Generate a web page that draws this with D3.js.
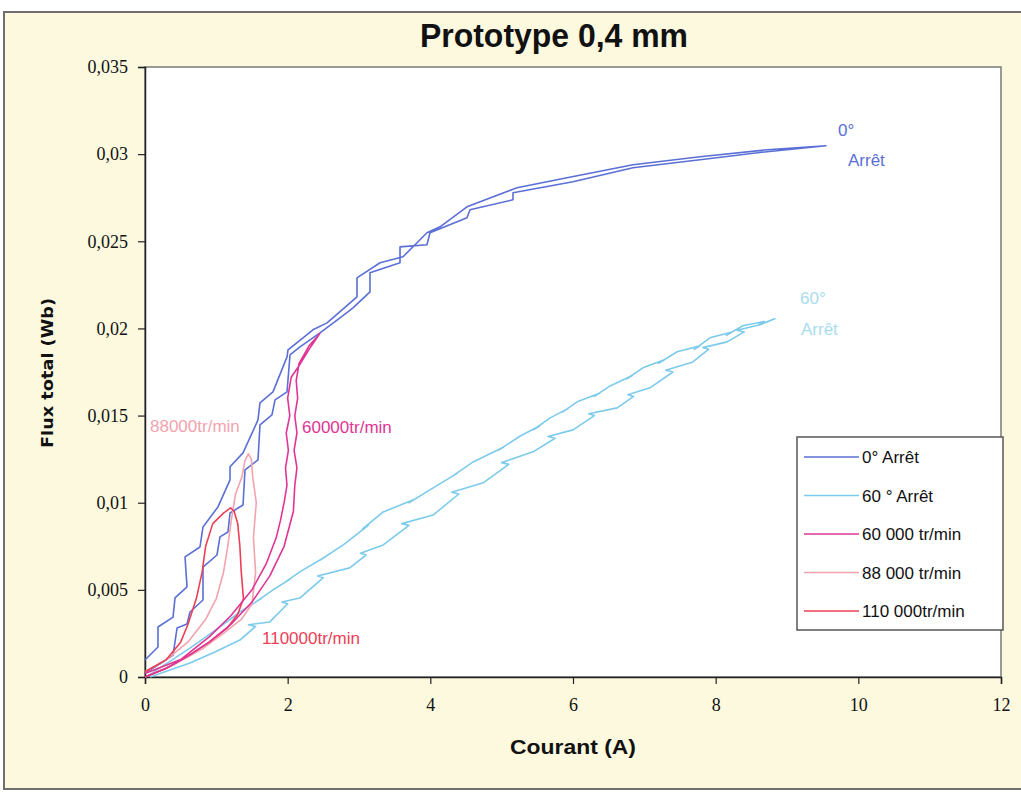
<!DOCTYPE html>
<html><head><meta charset="utf-8">
<script src="https://cdn.jsdelivr.net/npm/d3@7"></script>
<style>
html,body{margin:0;padding:0;background:#fff;}
svg{display:block;}
</style></head>
<body>
<svg id="chart" width="1021" height="792"></svg>
<script>
// ---- Data (Courant A, Flux total Wb) ----
const xTicks = [0, 2, 4, 6, 8, 10, 12];
const yTicks = [0, 0.005, 0.01, 0.015, 0.02, 0.025, 0.03, 0.035];

const seriesNames = ["0° Arrêt", "60 ° Arrêt", "60 000 tr/min", "88 000 tr/min", "110 000tr/min"];
const seriesColors = ["#5b6fd6", "#7ccbec", "#e03595", "#f3a3ae", "#ec3f55"];

const zeroX = [0,0.21,0.393,0.449,0.589,0.631,0.813,0.813,1.009,1.051,1.163,1.192,1.374,1.402,1.584,1.612,1.78,1.823,1.991,2.033,2.173,2.453,2.734,2.916,3.154,3.154,3.575,3.575,3.953,3.995,4.514,4.556,5.159,5.159,6.0,6.841,7.78,8.72,9.547,
  8.72,7.78,6.841,5.916,5.215,4.514,4.136,3.953,3.617,3.295,2.972,2.972,2.552,2.355,2.005,1.991,1.794,1.612,1.584,1.374,1.192,1.192,1.023,0.813,0.771,0.561,0.589,0.421,0.393,0.182,0.182,0.028,0];
const zeroY = [0.00023,0.00075,0.00126,0.00281,0.00304,0.00373,0.00442,0.00631,0.007,0.00804,0.00832,0.00941,0.00987,0.01188,0.01246,0.01447,0.01504,0.0159,0.01636,0.01848,0.01894,0.01975,0.02061,0.02118,0.0221,0.02319,0.02377,0.02468,0.0248,0.02549,0.02635,0.02681,0.02738,0.02778,0.02842,0.02922,0.02968,0.03014,0.03048,
  0.03025,0.02985,0.02939,0.02865,0.02807,0.02698,0.02583,0.02549,0.02411,0.02377,0.0229,0.02181,0.02032,0.01992,0.01877,0.01837,0.01636,0.01573,0.01475,0.01286,0.01206,0.01131,0.00976,0.00861,0.00746,0.00689,0.00517,0.00454,0.00344,0.00287,0.00172,0.00109,0.00098];

const sixtyX = [0.07,0.35,0.63,0.98,1.33,1.55,1.45,1.75,2.0,1.92,2.17,2.5,2.42,2.87,3.1,3.02,3.34,3.7,3.6,4.04,4.4,4.3,4.74,5.1,5.0,5.44,5.75,5.65,6.0,6.3,6.22,6.62,6.85,6.77,7.08,7.4,7.3,7.68,7.9,7.82,8.16,8.4,8.3,8.62,8.83,
  8.6,8.68,8.38,8.15,8.23,7.92,7.7,7.78,7.46,7.2,7.28,6.98,6.75,6.83,6.52,6.3,6.38,6.06,5.85,5.93,5.68,5.45,5.53,5.26,4.95,5.03,4.6,4.3,4.38,4.04,3.7,3.78,3.34,3.05,3.13,2.78,2.45,2.53,2.17,1.95,2.03,1.79,1.55,1.63,1.33,1.09,0.63,0.21,0.04];
const sixtyY = [0,0.0004,0.0008,0.00144,0.00212,0.0029,0.003,0.00316,0.0042,0.0043,0.00453,0.0057,0.0058,0.00626,0.007,0.0071,0.00758,0.0087,0.0088,0.0093,0.0105,0.0106,0.01114,0.0122,0.0123,0.01292,0.0137,0.0138,0.01418,0.015,0.0151,0.01544,0.0161,0.0162,0.01659,0.0175,0.0176,0.01808,0.0188,0.0189,0.01923,0.0198,0.0199,0.02021,0.02055,
  0.0202,0.0204,0.02015,0.0196,0.0198,0.01946,0.0188,0.019,0.01866,0.018,0.0182,0.01774,0.0171,0.0173,0.0167,0.0161,0.0163,0.01579,0.0152,0.0154,0.01487,0.0142,0.0144,0.01383,0.013,0.0132,0.01234,0.0115,0.0117,0.01085,0.01,0.0102,0.00947,0.0085,0.0087,0.00758,0.0067,0.0069,0.00603,0.0054,0.0056,0.00499,0.0043,0.0045,0.00373,0.00299,0.00166,0.00052,0.00006];

const rpm60X = [0,0.3,0.6,0.9,1.2,1.5,1.75,1.95,2.08,2.1,2.13,2.09,2.13,2.1,2.14,2.12,2.16,2.3,2.45,
  2.3,2.15,2.05,2.0,2.03,1.98,2.01,1.97,1.99,1.95,1.9,1.84,1.7,1.5,1.2,0.9,0.5,0];
const rpm60Y = [0,0.0005,0.0012,0.002,0.003,0.0043,0.0058,0.0075,0.0095,0.011,0.012,0.013,0.014,0.015,0.016,0.017,0.018,0.019,0.0197,
  0.0188,0.0178,0.0172,0.016,0.015,0.014,0.013,0.012,0.011,0.01,0.009,0.008,0.0065,0.005,0.0035,0.0023,0.001,0.0002];

const rpm88X = [0,0.4,0.8,1.1,1.35,1.5,1.55,1.52,1.56,1.51,1.49,1.45,
  1.4,1.36,1.27,1.21,1.16,1.1,1.0,0.85,0.6,0.3,0];
const rpm88Y = [0,0.0007,0.0016,0.0025,0.0033,0.0042,0.006,0.008,0.01,0.0115,0.0125,0.0128,
  0.0124,0.0115,0.0105,0.009,0.0075,0.006,0.0045,0.0033,0.002,0.001,0.0003];

const rpm110X = [0,0.3,0.6,0.9,1.15,1.3,1.38,1.35,1.33,1.3,1.25,1.2,
  1.1,0.95,0.85,0.8,0.72,0.6,0.5,0.3,0];
const rpm110Y = [0,0.0005,0.0012,0.002,0.0028,0.0036,0.0045,0.006,0.0075,0.0088,0.0095,0.0097,
  0.0094,0.0088,0.0075,0.006,0.0045,0.003,0.002,0.001,0.0003];

const seriesData = [
  {x: zeroX, y: zeroY},
  {x: sixtyX, y: sixtyY},
  {x: rpm60X, y: rpm60Y},
  {x: rpm88X, y: rpm88Y},
  {x: rpm110X, y: rpm110Y}
];

// ---- Drawing ----
const svg = d3.select("#chart");
const X0 = 145, X1 = 1001, Y0 = 677, Y1 = 67;
const x = d3.scaleLinear().domain([0, 12]).range([X0, X1]);
const y = d3.scaleLinear().domain([0, 0.035]).range([Y0, Y1]);
const loc = d3.formatLocale({decimal: ",", thousands: " ", grouping: [3], currency: ["", "€"]});
const fmt = loc.format("~r");

// outer chart frame
svg.append("rect").attr("x", 4).attr("y", 12).attr("width", 1030).attr("height", 777)
  .attr("fill", "#fcf9de").attr("stroke", "#6f6f6f").attr("stroke-width", 2);
// plot area
svg.append("rect").attr("x", X0).attr("y", Y1).attr("width", X1 - X0).attr("height", Y0 - Y1)
  .attr("fill", "#ffffff").attr("stroke", "#7a7a7a").attr("stroke-width", 1.5);

// title
svg.append("text").attr("x", 554).attr("y", 47).attr("text-anchor", "middle")
  .attr("font-family", "'Liberation Sans',Arial,sans-serif")
  .attr("font-weight", "bold").attr("font-size", 34).attr("fill", "#111")
  .attr("textLength", 268).attr("lengthAdjust", "spacingAndGlyphs")
  .text("Prototype 0,4 mm");

// axes
const gx = svg.append("g").attr("transform", `translate(0,${Y0})`)
  .call(d3.axisBottom(x).tickValues(xTicks).tickFormat(fmt).tickSize(7).tickPadding(14));
const gy = svg.append("g").attr("transform", `translate(${X0},0)`)
  .call(d3.axisLeft(y).tickValues(yTicks).tickFormat(fmt).tickSize(7).tickPadding(10));
[gx, gy].forEach(g => {
  g.select(".domain").attr("stroke", "#222").attr("stroke-width", 1.5);
  g.selectAll(".tick line").attr("stroke", "#222").attr("stroke-width", 1.2);
  g.selectAll(".tick text").attr("font-family", "'Liberation Serif','Times New Roman',serif")
    .attr("font-size", 18).attr("fill", "#111");
});

// axis titles
svg.append("text").attr("x", 573).attr("y", 754).attr("text-anchor", "middle")
  .attr("font-family", "'Liberation Sans',Arial,sans-serif")
  .attr("font-weight", "bold").attr("font-size", 21).attr("fill", "#111")
  .attr("textLength", 126).attr("lengthAdjust", "spacingAndGlyphs").text("Courant (A)");
svg.append("text").attr("transform", "translate(53,373) rotate(-90)").attr("text-anchor", "middle")
  .attr("font-family", "'DejaVu Sans',Verdana,sans-serif")
  .attr("font-weight", "bold").attr("font-size", 16.5).attr("fill", "#111")
  .attr("textLength", 150).attr("lengthAdjust", "spacingAndGlyphs").text("Flux total (Wb)");

// series
const line = d3.line().x(d => x(d[0])).y(d => y(d[1]));
const drawOrder = [1, 0, 3, 4, 2];
drawOrder.forEach(i => {
  const pts = seriesData[i].x.map((v, k) => [v, seriesData[i].y[k]]);
  svg.append("path").datum(pts).attr("d", line).attr("fill", "none")
    .attr("stroke", seriesColors[i]).attr("stroke-width", 1.6).attr("stroke-linejoin", "round");
});

// in-chart labels
const lblFont = "'Liberation Sans',Arial,sans-serif";
const labels = [
  {t: "0°", x: 838, y: 136, c: "#5b6fd6"},
  {t: "Arrêt", x: 848, y: 166, c: "#5b6fd6"},
  {t: "60°", x: 800, y: 304, c: "#a9dcef"},
  {t: "Arrêt", x: 801, y: 335, c: "#a9dcef"},
  {t: "88000tr/min", x: 150, y: 432, c: "#f3a3ae"},
  {t: "60000tr/min", x: 302, y: 433, c: "#e03595"},
  {t: "110000tr/min", x: 262, y: 644, c: "#ec3f55"}
];
labels.forEach(l => svg.append("text").attr("x", l.x).attr("y", l.y)
  .attr("font-family", lblFont).attr("font-size", 17).attr("fill", l.c).text(l.t));

// legend
const lg = svg.append("g").attr("transform", "translate(797,437)");
lg.append("rect").attr("width", 206).attr("height", 193).attr("fill", "#fff")
  .attr("stroke", "#555").attr("stroke-width", 1.5);
seriesNames.forEach((n, i) => {
  const yy = 20 + i * 38.5;
  lg.append("line").attr("x1", 7).attr("x2", 62).attr("y1", yy).attr("y2", yy)
    .attr("stroke", seriesColors[i]).attr("stroke-width", 1.6);
  lg.append("text").attr("x", 65).attr("y", yy + 6).attr("font-family", lblFont)
    .attr("font-size", 17).attr("fill", "#111").text(n);
});
</script>
</body></html>
